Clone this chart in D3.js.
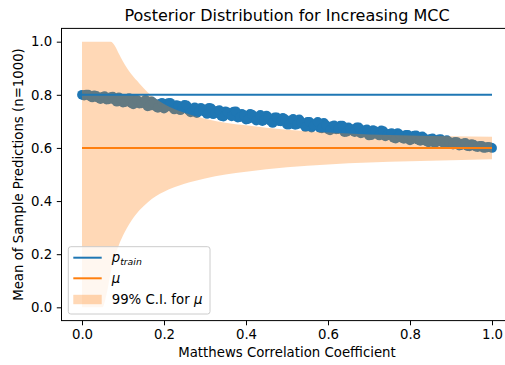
<!DOCTYPE html>
<html>
<head>
<meta charset="utf-8">
<script src="https://cdn.jsdelivr.net/npm/d3@7"></script>
<style>
  body { margin: 0; background: #fff; }
  svg { display: block; font-family: "DejaVu Sans", sans-serif; }
</style>
</head>
<body>
<svg id="chart" width="505" height="365"></svg>
<script>
// scatter: mean of sample predictions at each MCC (two interleaved runs)
const mccA = [
  0.00, 0.01, 0.02, 0.03, 0.04, 0.05, 0.06, 0.07, 0.08, 0.09,
  0.10, 0.11, 0.12, 0.13, 0.14, 0.15, 0.16, 0.17, 0.18, 0.19,
  0.20, 0.21, 0.22, 0.23, 0.24, 0.25, 0.26, 0.27, 0.28, 0.29,
  0.30, 0.31, 0.32, 0.33, 0.34, 0.35, 0.36, 0.37, 0.38, 0.39,
  0.40, 0.41, 0.42, 0.43, 0.44, 0.45, 0.46, 0.47, 0.48, 0.49,
  0.50, 0.51, 0.52, 0.53, 0.54, 0.55, 0.56, 0.57, 0.58, 0.59,
  0.60, 0.61, 0.62, 0.63, 0.64, 0.65, 0.66, 0.67, 0.68, 0.69,
  0.70, 0.71, 0.72, 0.73, 0.74, 0.75, 0.76, 0.77, 0.78, 0.79,
  0.80, 0.81, 0.82, 0.83, 0.84, 0.85, 0.86, 0.87, 0.88, 0.89,
  0.90, 0.91, 0.92, 0.93, 0.94, 0.95, 0.96, 0.97, 0.98, 0.99,
  1.00
];
const meanPredA = [
  0.800, 0.801, 0.794, 0.798, 0.789, 0.792, 0.782, 0.791, 0.780, 0.790,
  0.771, 0.784, 0.769, 0.784, 0.767, 0.773, 0.757, 0.775, 0.756, 0.766,
  0.748, 0.769, 0.753, 0.761, 0.742, 0.762, 0.742, 0.748, 0.731, 0.751,
  0.736, 0.751, 0.727, 0.739, 0.720, 0.738, 0.726, 0.737, 0.714, 0.728,
  0.707, 0.728, 0.711, 0.717, 0.701, 0.722, 0.701, 0.715, 0.701, 0.713,
  0.688, 0.704, 0.687, 0.707, 0.688, 0.698, 0.677, 0.691, 0.676, 0.694,
  0.670, 0.682, 0.670, 0.684, 0.660, 0.677, 0.665, 0.677, 0.655, 0.667,
  0.647, 0.667, 0.652, 0.666, 0.644, 0.653, 0.638, 0.656, 0.638, 0.649,
  0.629, 0.646, 0.631, 0.643, 0.625, 0.634, 0.619, 0.632, 0.620, 0.629,
  0.614, 0.623, 0.609, 0.617, 0.607, 0.614, 0.605, 0.608, 0.600, 0.604,
  0.600
];
const mccB = [
  0.005, 0.015, 0.025, 0.035, 0.045, 0.055, 0.065, 0.075, 0.085, 0.095,
  0.105, 0.115, 0.125, 0.135, 0.145, 0.155, 0.165, 0.175, 0.185, 0.195,
  0.205, 0.215, 0.225, 0.235, 0.245, 0.255, 0.265, 0.275, 0.285, 0.295,
  0.305, 0.315, 0.325, 0.335, 0.345, 0.355, 0.365, 0.375, 0.385, 0.395,
  0.405, 0.415, 0.425, 0.435, 0.445, 0.455, 0.465, 0.475, 0.485, 0.495,
  0.505, 0.515, 0.525, 0.535, 0.545, 0.555, 0.565, 0.575, 0.585, 0.595,
  0.605, 0.615, 0.625, 0.635, 0.645, 0.655, 0.665, 0.675, 0.685, 0.695,
  0.705, 0.715, 0.725, 0.735, 0.745, 0.755, 0.765, 0.775, 0.785, 0.795,
  0.805, 0.815, 0.825, 0.835, 0.845, 0.855, 0.865, 0.875, 0.885, 0.895,
  0.905, 0.915, 0.925, 0.935, 0.945, 0.955, 0.965, 0.975, 0.985, 0.995
];
const meanPredB = [
  0.797, 0.801, 0.790, 0.796, 0.784, 0.795, 0.783, 0.793, 0.774, 0.786,
  0.773, 0.787, 0.764, 0.780, 0.768, 0.781, 0.759, 0.769, 0.751, 0.770,
  0.754, 0.770, 0.745, 0.759, 0.749, 0.760, 0.734, 0.753, 0.737, 0.744,
  0.728, 0.749, 0.731, 0.742, 0.718, 0.734, 0.719, 0.738, 0.716, 0.723,
  0.709, 0.725, 0.703, 0.724, 0.706, 0.715, 0.694, 0.715, 0.700, 0.708,
  0.688, 0.709, 0.689, 0.697, 0.679, 0.698, 0.685, 0.698, 0.674, 0.686,
  0.666, 0.685, 0.671, 0.684, 0.661, 0.672, 0.660, 0.677, 0.658, 0.670,
  0.648, 0.663, 0.647, 0.663, 0.648, 0.656, 0.635, 0.650, 0.634, 0.649,
  0.633, 0.647, 0.627, 0.637, 0.621, 0.636, 0.622, 0.633, 0.616, 0.624,
  0.613, 0.622, 0.611, 0.619, 0.606, 0.612, 0.603, 0.608, 0.601, 0.603
];

// 99% credible interval for mu
const ciMcc   = [0.00, 0.03, 0.05, 0.06, 0.07, 0.08, 0.09, 0.10, 0.11, 0.12, 0.14, 0.16, 0.18, 0.20, 0.25, 0.30, 0.35, 0.40, 0.50, 0.60, 0.70, 0.80, 0.90, 1.00];
const ciUpper = [1.00, 1.00, 1.00, 1.00, 1.00, 0.985, 0.955, 0.925, 0.90, 0.878, 0.843, 0.81, 0.785, 0.765, 0.732, 0.71, 0.695, 0.685, 0.668, 0.658, 0.651, 0.647, 0.644, 0.642];
const ciLower = [0.00, 0.00, 0.00, 0.05, 0.13, 0.19, 0.235, 0.27, 0.30, 0.325, 0.365, 0.395, 0.418, 0.435, 0.465, 0.485, 0.50, 0.51, 0.527, 0.538, 0.545, 0.55, 0.554, 0.557];

const pTrain = 0.8;
const mu = 0.6;
const tickValues = [0, 0.2, 0.4, 0.6, 0.8, 1.0];

const blue = "#1f77b4", orange = "#ff7f0e";
const axLeft = 61.5, axRight = 512.5, axTop = 28.4, axBottom = 320.6;

const svg = d3.select("#chart");

const x = d3.scaleLinear().domain([-0.05, 1.05]).range([axLeft, axRight]);
const y = d3.scaleLinear().domain([-0.05, 1.05]).range([axBottom, axTop]);

const plot = svg.append("g");

// scatter
const points = mccA.map((m, i) => [m, meanPredA[i]])
  .concat(mccB.map((m, i) => [m, meanPredB[i]]));
plot.selectAll(".dot")
  .data(points)
  .enter().append("circle")
    .attr("class", "dot")
    .attr("cx", d => x(d[0]))
    .attr("cy", d => y(d[1]))
    .attr("r", 4.9)
    .attr("fill", blue);

// CI band
const ci = ciMcc.map((m, i) => ({m: m, lo: ciLower[i], hi: ciUpper[i]}));
plot.append("path")
  .datum(ci)
  .attr("fill", orange)
  .attr("fill-opacity", 0.3)
  .attr("d", d3.area()
    .curve(d3.curveMonotoneX)
    .x(d => x(d.m))
    .y0(d => y(d.lo))
    .y1(d => y(d.hi)));

// horizontal lines
[[pTrain, blue], [mu, orange]].forEach(([v, c]) => {
  plot.append("line")
    .attr("x1", x(0)).attr("x2", x(1))
    .attr("y1", y(v)).attr("y2", y(v))
    .attr("stroke", c)
    .attr("stroke-width", 2);
});

// axes
const fmt = d3.format(".1f");
const xAxis = svg.append("g")
  .attr("transform", `translate(0,${axBottom})`)
  .call(d3.axisBottom(x).tickValues(tickValues).tickFormat(fmt).tickSize(4.7).tickPadding(4.7).tickSizeOuter(0));
const yAxis = svg.append("g")
  .attr("transform", `translate(${axLeft},0)`)
  .call(d3.axisLeft(y).tickValues(tickValues).tickFormat(fmt).tickSize(4.7).tickPadding(4.7).tickSizeOuter(0));
[xAxis, yAxis].forEach(a => {
  a.select(".domain").remove();
  a.selectAll("text").attr("font-size", "13.3px").attr("font-family", "DejaVu Sans").attr("fill", "#000");
  a.selectAll("line").attr("stroke", "#000").attr("stroke-width", 1);
});

// spines
svg.append("rect")
  .attr("x", axLeft).attr("y", axTop)
  .attr("width", axRight - axLeft).attr("height", axBottom - axTop)
  .attr("fill", "none")
  .attr("stroke", "#000")
  .attr("stroke-width", 1);

// labels
svg.append("text")
  .attr("x", (axLeft + axRight) / 2).attr("y", 21)
  .attr("text-anchor", "middle")
  .attr("font-size", "16px")
  .text("Posterior Distribution for Increasing MCC");

svg.append("text")
  .attr("x", (axLeft + axRight) / 2).attr("y", 357)
  .attr("text-anchor", "middle")
  .attr("font-size", "13.3px")
  .text("Matthews Correlation Coefficient");

svg.append("text")
  .attr("transform", `translate(22.5,${(axTop + axBottom) / 2}) rotate(-90)`)
  .attr("text-anchor", "middle")
  .attr("font-size", "13.3px")
  .text("Mean of Sample Predictions (n=1000)");

// legend
const lg = svg.append("g");
lg.append("rect")
  .attr("x", 68.3).attr("y", 246.7)
  .attr("width", 141.7).attr("height", 67.3)
  .attr("rx", 2.5)
  .attr("fill", "#fff").attr("fill-opacity", 0.8)
  .attr("stroke", "#cccccc").attr("stroke-width", 1);

const rows = [257.7, 278.3, 299.5];
lg.append("line").attr("x1", 73.3).attr("x2", 101.7).attr("y1", rows[0]).attr("y2", rows[0])
  .attr("stroke", blue).attr("stroke-width", 2);
lg.append("line").attr("x1", 73.3).attr("x2", 101.7).attr("y1", rows[1]).attr("y2", rows[1])
  .attr("stroke", orange).attr("stroke-width", 2);
lg.append("rect").attr("x", 73.3).attr("y", rows[2] - 4.7).attr("width", 28.4).attr("height", 9.4)
  .attr("fill", orange).attr("fill-opacity", 0.3);

const t1 = lg.append("text").attr("x", 111.7).attr("y", rows[0] + 4.7).attr("font-size", "13.3px");
t1.append("tspan").attr("font-style", "italic").text("p");
t1.append("tspan").attr("font-style", "italic").attr("font-size", "9.3px").attr("dy", 2.5).text("train");

lg.append("text").attr("x", 111.7).attr("y", rows[1] + 4.7).attr("font-size", "13.3px")
  .attr("font-style", "italic").text("μ");

const t3 = lg.append("text").attr("x", 111.7).attr("y", rows[2] + 4.7).attr("font-size", "13.3px");
t3.append("tspan").text("99% C.I. for ");
t3.append("tspan").attr("font-style", "italic").text("μ");
</script>
</body>
</html>
